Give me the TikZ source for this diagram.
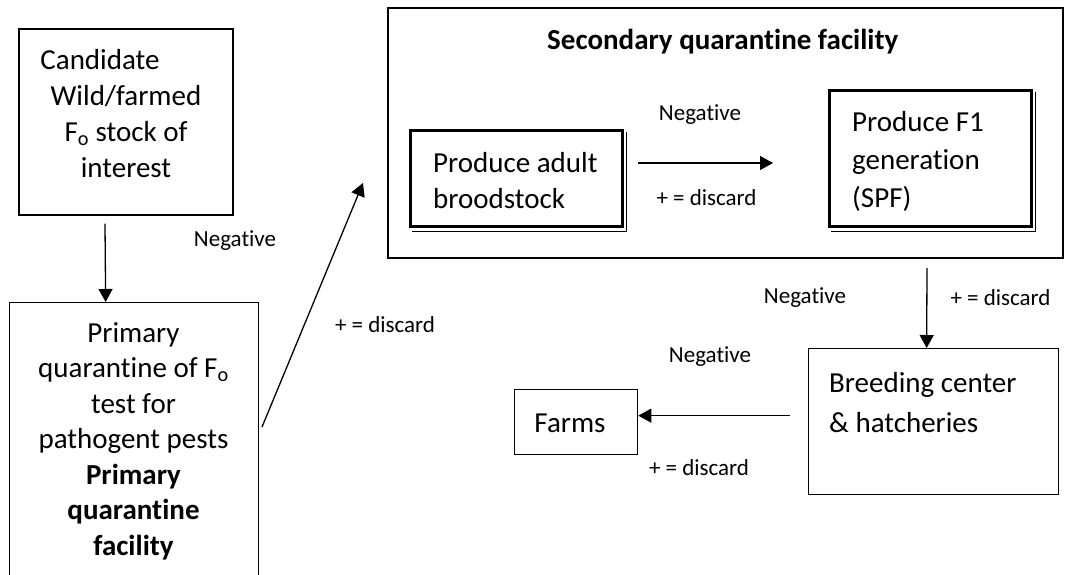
\documentclass[tikz,border=0pt]{standalone}
\usepackage{fontspec}
\setmainfont{Carlito}[Ligatures={NoCommon}]
\usepackage{tikz}
\usetikzlibrary{arrows.meta}

\begin{document}
\begin{tikzpicture}[x=1pt, y=-1pt,
  big/.style={font=\fontsize{29}{36}\selectfont, inner sep=0pt},
  small/.style={font=\fontsize{23}{28}\selectfont, inner sep=0pt},
  box/.style={draw, line width=1.3pt, inner sep=0pt},
  dbox/.style={draw, line width=3pt, inner sep=0pt},
  flow/.style={line width=1.3pt, -{Triangle[length=13pt, width=14pt]}}]
\clip (0,0) rectangle (1065,574);
% left column
\node[box, minimum width=214pt, minimum height=186pt] (cand) at (126,122) {};
\node[big, align=center] (cand-t) at (126,114) {Candidate\hspace*{52pt}\\Wild/farmed\\F\textsubscript{o} stock of\\interest};
\node[box, minimum width=249pt, minimum height=330pt, anchor=north west] (prim) at (9,302) {};
\node[big, align=center, font=\fontsize{29}{35.5}\selectfont] (prim-t) at (133.5,441) {Primary\\quarantine of F\textsubscript{o}\\test for\\pathogent pests\\\textbf{Primary}\\\textbf{quarantine}\\\textbf{facility}};
\draw[flow] ([xshift=-21pt, yshift=-8pt]cand.south) -- ([xshift=-28.5pt]prim.north);
\node[small] (neg1) at (235,241) {Negative};
\coordinate (diag-a) at (262,427);
\coordinate (diag-b) at (363,183);
\draw[flow] (diag-a) -- (diag-b);
\node[small] (pos1) at (385,325) {+ = discard};
% secondary facility
\node[box, line width=2pt, minimum width=675pt, minimum height=250pt, anchor=north west] (sec) at (387,7) {};
\node[big, anchor=west] (sec-t) at (547,42) {\bfseries Secondary quarantine facility};
\node[dbox, minimum width=212pt, minimum height=96pt, anchor=north west] (adult) at (409,129) {};
\node[big, align=left, anchor=west] (adult-t) at (433,181) {Produce adult\\broodstock};
\node[dbox, minimum width=202pt, minimum height=136pt, anchor=north west] (f1) at (828,89) {};
\node[big, align=left, anchor=west, font=\fontsize{29}{38}\selectfont] (f1-t) at (852,161) {Produce F1\\generation\\(SPF)};
\foreach \b in {adult, f1}
  \draw[line width=1pt] ([shift={(2.5pt,-3pt)}]\b.north east) -- ([shift={(2.5pt,-3pt)}]\b.south east) -- ([shift={(3pt,-3pt)}]\b.south west);
\draw[flow] ([xshift=14pt, yshift=15.5pt]adult.east) -- ([xshift=-55pt, yshift=-4.5pt]f1.west);
\node[small] (neg2) at (700,115) {Negative};
\node[small] (pos2) at (706.5,198) {+ = discard};
% breeding and farms
\node[box, minimum width=250pt, minimum height=146pt, anchor=north west] (breed) at (808,348) {};
\node[big, align=left, anchor=west, font=\fontsize{29}{40}\selectfont] (breed-t) at (829,403) {Breeding center\\\& hatcheries};
\node[box, minimum width=123pt, minimum height=65pt, anchor=north west] (farms) at (514,389) {};
\node[big] (farms-t) at (570,423) {Farms};
\draw[flow] ([xshift=201.5pt, yshift=-9pt]sec.south) -- ([xshift=-7pt]breed.north);
\node[small] (neg3) at (805,298) {Negative};
\node[small] (pos3) at (1000.5,298) {+ = discard};
\draw[flow] ([xshift=-18pt, yshift=6pt]breed.west) -- ([yshift=6.5pt]farms.east);
\node[small] (neg4) at (710,357) {Negative};
\node[small] (pos4) at (699,468) {+ = discard};
\end{tikzpicture}
\end{document}
